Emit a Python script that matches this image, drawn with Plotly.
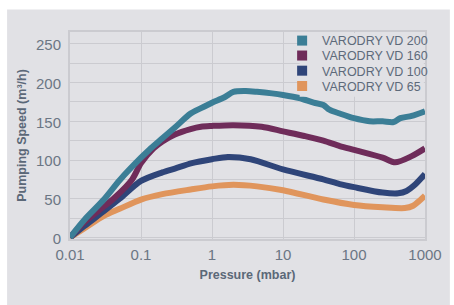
import plotly.graph_objects as go

# ---- data ----
series_names = ["VARODRY VD 200", "VARODRY VD 160", "VARODRY VD 100", "VARODRY VD 65"]

p_vd200 = [0.01, 0.016, 0.03, 0.05, 0.1, 0.13, 0.2, 0.3, 0.5, 0.7, 1, 1.5, 2, 3, 4.3, 7, 10, 17, 27, 37, 45, 63, 100, 166, 253, 360, 450, 650, 1000]
s_vd200 = [0, 23, 49, 74, 103, 113, 128, 142, 160, 167, 174, 181, 188, 189, 188, 186, 184, 180, 174, 171, 165, 160, 154, 150, 150, 149, 154, 157, 163]

p_vd160 = [0.01, 0.016, 0.03, 0.042, 0.075, 0.1, 0.15, 0.2, 0.3, 0.5, 0.7, 1, 2, 5, 10, 20, 37, 63, 100, 253, 380, 650, 1000]
s_vd160 = [0, 20, 40, 51, 75, 96, 115, 124, 133, 140, 143, 144, 145, 143, 137, 131, 125, 118, 113, 103, 97, 105, 115]

p_vd100 = [0.01, 0.016, 0.03, 0.05, 0.1, 0.2, 0.3, 0.52, 1, 1.67, 3.5, 10, 37, 63, 100, 253, 420, 550, 700, 1000]
s_vd100 = [0, 15, 34, 50, 73, 84, 89, 96, 101, 104, 101, 88, 75, 69, 65, 58, 57, 60, 67, 82]

p_vd65 = [0.01, 0.016, 0.03, 0.05, 0.1, 0.2, 0.5, 1, 2, 4.3, 10, 37, 100, 253, 520, 680, 800, 1000]
s_vd65 = [0, 12, 28, 37, 49, 56, 62, 66, 68, 66, 61, 49, 42, 39, 38, 41, 46, 54]

colors = ["#3b7e96", "#6f2c5a", "#2f4579", "#e0955c"]

x_tickvals = [0.01, 0.1, 1, 10, 100, 1000]
x_ticktext = ["0.01", "0.1", "1", "10", "100", "1000"]
y_tickvals = [0, 50, 100, 150, 200, 250]

BG = "#e1e1e5"
GRID = "#cbcbd0"
TICK = "#6b7684"
TITLE = "#5b6878"

fig = go.Figure()

all_p = [p_vd200, p_vd160, p_vd100, p_vd65]
all_s = [s_vd200, s_vd160, s_vd100, s_vd65]
legend_ids = ["legend", "legend2", "legend3", "legend4"]

# draw order: orange at bottom, teal on top
for i in [3, 2, 1, 0]:
    fig.add_trace(go.Scatter(
        x=all_p[i], y=all_s[i], mode="lines", name=series_names[i],
        line=dict(color=colors[i], width=6, shape="spline", smoothing=0.8),
        showlegend=False, hoverinfo="x+y+name",
    ))

# legend entries with square swatches
for i in range(4):
    fig.add_trace(go.Scatter(
        x=[None], y=[None], mode="markers", name=series_names[i],
        marker=dict(symbol="square", size=10, color=colors[i]),
        showlegend=True, legend=legend_ids[i],
    ))

L, R, T, B = 69.5, 20.5, 31.7, 65.5
W, H = 454, 305
pw, ph = W - L - R, H - T - B

def px2xp(px):
    return (px - L) / pw

def px2yp(py):
    return (H - B - py) / ph

leg_font = dict(family="Liberation Sans, Arial, sans-serif", size=12.5, color="#5d6a7a")
entry_y = [40.7, 55.7, 70.9, 86.3]
layout_legends = {}
for i, lid in enumerate(legend_ids):
    layout_legends[lid] = dict(
        x=px2xp(287), y=px2yp(entry_y[i]), xanchor="left", yanchor="middle",
        bgcolor="rgba(0,0,0,0)", borderwidth=0, font=leg_font,
        itemclick=False, itemdoubleclick=False,
    )

fig.update_layout(
    width=W, height=H,
    margin=dict(l=L, r=R, t=T, b=B, pad=0),
    paper_bgcolor="white",
    plot_bgcolor=BG,
    font=dict(family="Liberation Sans, Arial, sans-serif", color=TICK),
    shapes=[
        # gray panel behind the chart (white strip at left/top)
        dict(type="rect", xref="paper", yref="paper",
             x0=px2xp(5), x1=px2xp(W + 5), y0=px2yp(H + 5), y1=px2yp(9),
             fillcolor=BG, line=dict(width=0), layer="below"),
        # legend box background covering grid
        dict(type="rect", xref="paper", yref="paper",
             x0=px2xp(305), x1=px2xp(432.3), y0=px2yp(96.7), y1=px2yp(32.8),
             fillcolor=BG, line=dict(width=0), layer="above"),
    ],
    **layout_legends,
)

fig.update_xaxes(
    type="log", range=[-2, 3],
    tickvals=x_tickvals, ticktext=x_ticktext,
    showgrid=True, gridcolor=GRID, gridwidth=1.3,
    showline=True, linecolor=GRID, linewidth=2, mirror=True,
    ticks="", tickfont=dict(size=15, color=TICK), ticklabelstandoff=1,
    title=dict(text="<b>Pressure (mbar)</b>", font=dict(size=12.5, color=TITLE), standoff=8),
    zeroline=False,
)
fig.update_yaxes(
    range=[-1.9, 265.2],
    tickvals=y_tickvals,
    showgrid=True, gridcolor=GRID, gridwidth=1.3,
    minor=dict(dtick=25, tick0=0, showgrid=True, gridcolor=GRID, gridwidth=1.3),
    showline=True, linecolor=GRID, linewidth=2, mirror=True,
    ticks="", tickfont=dict(size=15, color=TICK), ticklabelstandoff=4, ticklabelshift=1,
    title=dict(text="<b>Pumping Speed (m³/h)</b>", font=dict(size=12.5, color=TITLE), standoff=7),
    zeroline=False,
)

fig.write_html(
    "out.html",
    config={"displayModeBar": False},
    post_script="document.body.style.margin='0';document.body.style.overflow='hidden';",
)
